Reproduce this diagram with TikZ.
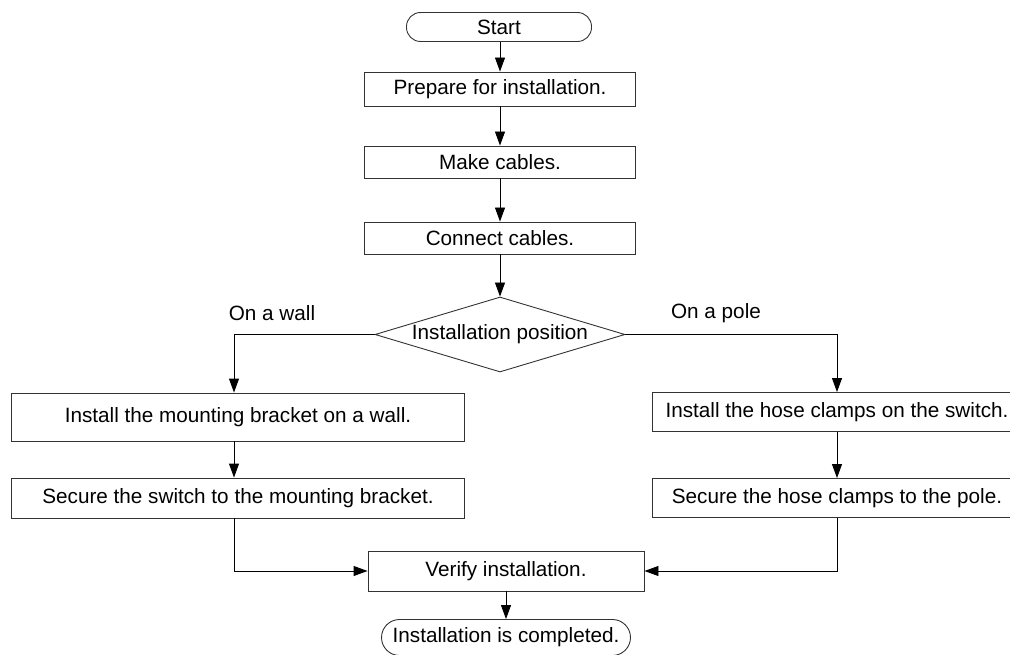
\documentclass[tikz,border=0pt]{standalone}
\usepackage{fontspec}
\setmainfont{Liberation Sans}
\usetikzlibrary{shapes.geometric,arrows.meta}
\begin{document}
\begin{tikzpicture}[x=1pt,y=-1pt,
  font=\fontsize{20.7}{24}\selectfont,
  every node/.style={inner sep=0pt},
  box/.style={draw=black!80, line width=0.9pt, rectangle, minimum width=#1, anchor=center},
  term/.style={draw=black!80, line width=0.9pt, rectangle, rounded corners=14pt, minimum width=#1, minimum height=29pt},
  conn/.style={draw=black, line width=0.9pt, -{Triangle[length=14pt,width=10pt]}},
  lbl/.style={anchor=center}]
\useasboundingbox (0,0) rectangle (1010,655);
\clip (0,0) rectangle (1010,655);
\node[term=185pt] (start) at (499,27) {Start};
\node[box=271pt, minimum height=34pt] (prep) at (500,89) {Prepare for installation.};
\node[box=271pt, minimum height=32pt] (make) at (500,162) {Make cables.};
\node[box=271pt, minimum height=32pt] (conn) at (500,238) {Connect cables.};
\node[draw=black!80, line width=0.9pt, diamond, minimum width=250pt, minimum height=75pt] (dia) at (500,334.5) {\makebox[0pt][c]{\raisebox{-2pt}{Installation position}}};
\node[lbl] (wall) at (272,313) {On a wall};
\node[lbl] (pole) at (716,313) {On a pole};
\node[box=453pt, minimum height=48pt] (lb1) at (238,417) {Install the mounting bracket on a wall.};
\node[box=453pt, minimum height=40pt] (lb2) at (238,498) {Secure the switch to the mounting bracket.};
\node[box=370pt, minimum height=39pt] (rb1) at (837,412) {Install the hose clamps on the switch.};
\node[box=370pt, minimum height=39pt] (rb2) at (837,498) {Secure the hose clamps to the pole.};
\node[box=276pt, minimum height=40pt] (ver) at (506,571) {Verify installation.};
\node[term=249pt, minimum height=36pt, rounded corners=18pt] (end) at (506,637.5) {Installation is completed.};
\coordinate (lturn) at (234,334.5);
\coordinate (rturn) at (837,334.5);
\coordinate (lbot) at (234,571);
\coordinate (rbot) at (837,571);
\draw[conn] (start.south -| prep.north) -- (prep.north);
\draw[conn] (prep) -- (make);
\draw[conn] (make) -- (conn);
\draw[conn] (conn.south) -- (dia.north);
\draw[conn] (dia.west) -- (lturn) -- (lturn |- lb1.north);
\draw[conn] (dia.east) -- (rturn) -- (rb1.north);
\draw[conn] (lturn |- lb1.south) -- (lturn |- lb2.north);
\draw[conn] (rb1) -- (rb2);
\draw[conn] (lturn |- lb2.south) -- (lbot) -- (ver.west);
\draw[conn] (rb2.south) -- (rbot) -- (ver.east);
\draw[conn] (ver) -- (end);
\end{tikzpicture}
\end{document}
